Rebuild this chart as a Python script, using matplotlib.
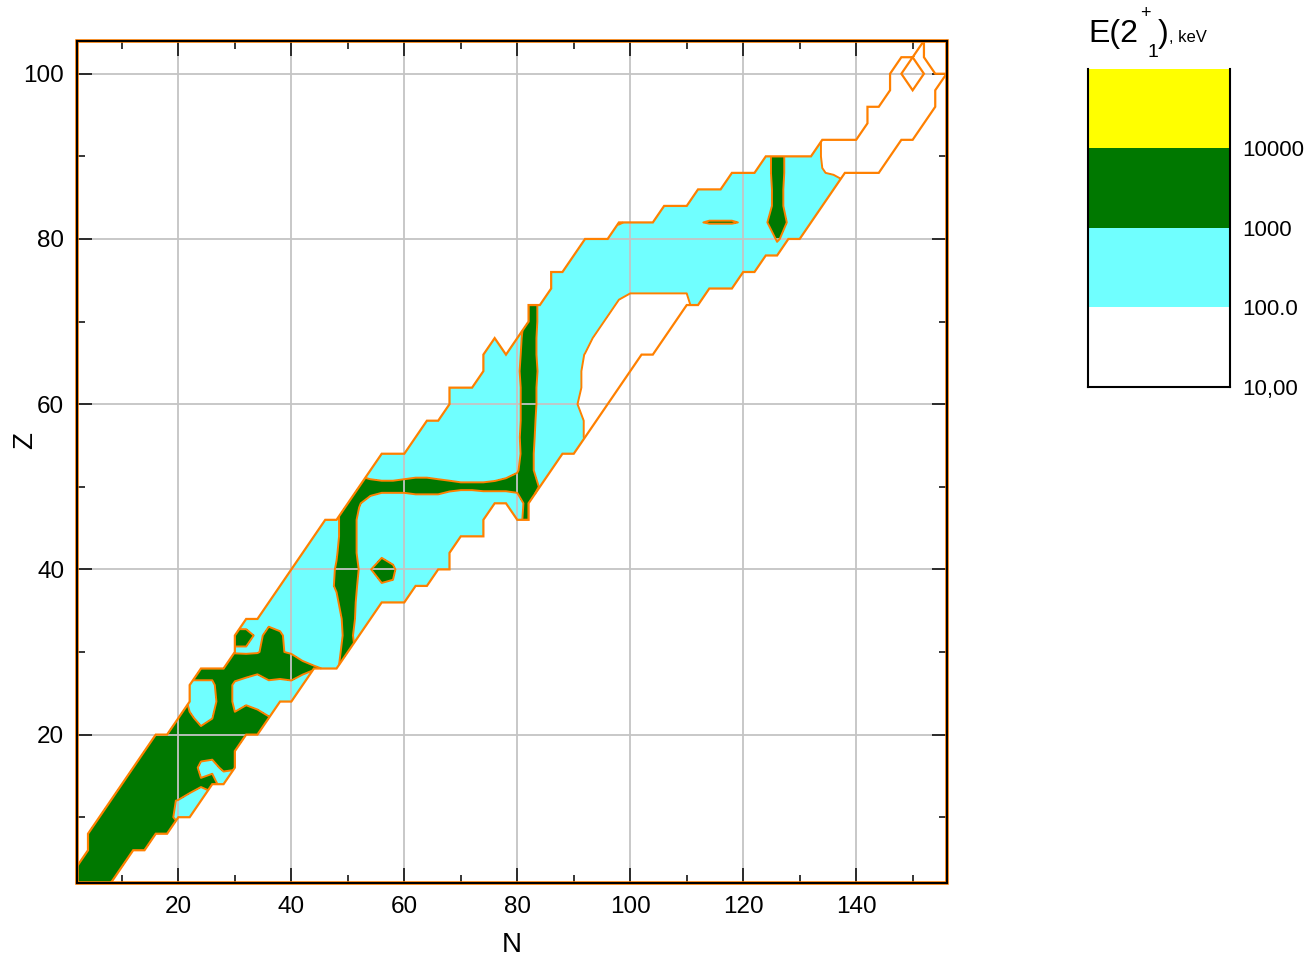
import numpy as np
import matplotlib
matplotlib.use("Agg")
import matplotlib.pyplot as plt
from matplotlib.patches import PathPatch, Rectangle
from matplotlib.ticker import MultipleLocator

plt.rcParams['font.family'] = ['Liberation Sans', 'DejaVu Sans']

# E(2+_1) classes used in the row strings below, keV ('.' = no data)
code_kev = {
    'w': 50, 'v': 88, 'z': 98, 'y': 105, 'x': 125, 'a': 190, 'b': 290,
    'c': 450, 'd': 620, 'e': 740, 'h': 870, 'm': 960, 'n': 990,
    'F': 1045, 'f': 1080, 'q': 1140, 'p': 1220, 'g': 1320, 'l': 1450,
    'i': 1600, 'j': 2000, 'k': 2600, 'G': 3500, 'Y': 12000,
}

# even-even nuclei: proton number, first neutron number, one code per N step of 2
z_rows = [2, 4, 6, 8, 10, 12, 14, 16, 18, 20, 22, 24, 26, 28, 30, 32, 34, 36,
          38, 40, 42, 44, 46, 48, 50, 52, 54, 56, 58, 60, 62, 64, 66, 68, 70,
          72, 74, 76, 78, 80, 82, 84, 86, 88, 90, 92, 94, 96, 98, 100, 102, 104]
n_first = [2, 2, 4, 4, 6, 8, 10, 12, 14, 16, 20, 22, 22, 24, 30, 30, 32, 36,
           38, 40, 42, 44, 46, 50, 52, 54, 56, 62, 64, 68, 68, 74, 74, 76, 82,
           82, 86, 86, 90, 92, 98, 106, 112, 118, 124, 134, 142, 142, 146, 146, 148, 152]
row_codes = [
    "Yijj", "jkGji", "GGGiii", "GGGjiGGj", "jjigjjgee", "iggillhdd",
    "iiijjGlfpe", "ijjjGghhfF", "ijjjlpqiF", "kjGiqgGFkj", "ifhniflqF",
    "heelhhhdcc", "hhhlheehedc", "ggklgqgljgfmh", "mmnFfhdddel",
    "ffmFFhddddgd", "hhmhdddddleh", "ecccdehieeedd", "bbcdefihhhhxxx",
    "bcceFjmmipaxxxa", "cdemlheecbaaaa", "dehlhdcccbbbbbbb",
    "hhlhdddccccbbcc..eg", "lFeddddddcccddddg", "lgpppgggpqqqqqpGe",
    "dddeeedddddehmgdc", "ccccbbbbcccdhgdcbb", "baabbbccdhldcaav",
    "axaabbcceidcbavv", "xaabcceiecbxwww", "xxxabceiecbxvwww",
    "abcejedbxvvwww", "abceiedbxzvvwwww", "b.diedbaxvvvvvww",
    "lhccbaxvvvvwvv", "lhccbaaxvvvvvvvx", "ccbbaaxyyyyyyxxaa",
    "cccbbbaxxxxxxaaaabb", "ccccbaaaaabbbbcccdd", "cccccbcccccccccccfed",
    "fhedeehmFFFmhekeeh", "cbbcddddedgedcc", "bcccdddgecbba",
    "cccdlecayvwwww", "dlecavwwwwww", "vvwwwwwww", "wwwwww", "wwwwwww",
    "wwwww", "ww.www", "www", "w",
]

levels = [10, 100, 1000, 10000, 100000]
band_colors = ['#ffffff', '#70ffff', '#007800', '#ffff00']
cbar_labels = ['10,00', '100.0', '1000', '10000']
line_color = '#ff8000'

n_axis = np.arange(2, 158, 2)
z_axis = np.arange(2, 106, 2)
energy = np.full((len(z_axis), len(n_axis)), np.nan)
for z, n0, codes in zip(z_rows, n_first, row_codes):
    for k, ch in enumerate(codes):
        if ch != '.':
            energy[(z - 2) // 2, (n0 - 2) // 2 + k] = code_kev[ch]
energy = np.ma.masked_invalid(energy)

fig = plt.figure(figsize=(13.09, 9.6), dpi=100)
ax = fig.add_axes([0.0586, 0.0799, 0.6645, 0.8777])

ax.contourf(n_axis, z_axis, energy, levels=levels, colors=band_colors,
            corner_mask=True, zorder=1)
ax.contour(n_axis, z_axis, energy, levels=levels[:-1], colors=line_color,
           linewidths=1.4, corner_mask=True, zorder=3)

# outline of the measured region
region = ax.contourf(n_axis, z_axis, energy, levels=[0, 1e6], colors='none',
                     corner_mask=True)
for p in region.get_paths():
    ax.add_patch(PathPatch(p, fc='none', ec=line_color, lw=1.6, zorder=3))
region.remove()

ax.add_patch(Rectangle((2, 2), 154, 102, fill=False, ec=line_color, lw=2.6,
                       zorder=3.5, clip_on=False))

ax.set_xlim(2, 156)
ax.set_ylim(2, 104)
ax.xaxis.set_major_locator(MultipleLocator(20))
ax.xaxis.set_minor_locator(MultipleLocator(10))
ax.yaxis.set_major_locator(MultipleLocator(20))
ax.yaxis.set_minor_locator(MultipleLocator(10))
ax.set_axisbelow(False)
ax.grid(True, which='major', color='#c4c4c4', lw=1.3)
ax.tick_params(which='both', direction='in', top=True, right=True,
               width=1.1, color='black', labelsize=17.5)
ax.tick_params(which='major', length=11, pad=9)
ax.tick_params(which='minor', length=6)
for s in ax.spines.values():
    s.set_linewidth(1.5)
    s.set_zorder(4)
ax.set_xlabel('N', fontsize=20)
ax.set_ylabel('Z', fontsize=20)
ax.xaxis.set_label_coords(0.5, -0.058)
ax.yaxis.set_label_coords(-0.044, 0.526)

# colour scale
cax = fig.add_axes([0.8312, 0.5969, 0.1085, 0.3313])
for i, c in enumerate(band_colors):
    cax.axhspan(i, i + 1, color=c, lw=0)
cax.set_xlim(0, 1)
cax.set_ylim(0, len(band_colors))
cax.set_xticks([])
cax.set_yticks(range(len(cbar_labels)))
cax.set_yticklabels(cbar_labels)
cax.yaxis.tick_right()
cax.tick_params(axis='y', length=0, pad=9, labelsize=16)
cax.spines['top'].set_visible(False)
for s in ['left', 'right', 'bottom']:
    cax.spines[s].set_linewidth(1.5)

H, W = 960.0, 1309.0
fig.text(1088 / W, 1 - 42 / H, 'E(2', fontsize=23, va='baseline')
fig.text(1145 / W, 1 - 18 / H, '+', fontsize=13, ha='center', va='baseline')
fig.text(1153 / W, 1 - 57 / H, '1', fontsize=14, ha='center', va='baseline')
fig.text(1158 / W, 1 - 42 / H, ')', fontsize=23, va='baseline')
fig.text(1169 / W, 1 - 42 / H, ', keV', fontsize=12, va='baseline')

fig.savefig('out.png', dpi=100)
